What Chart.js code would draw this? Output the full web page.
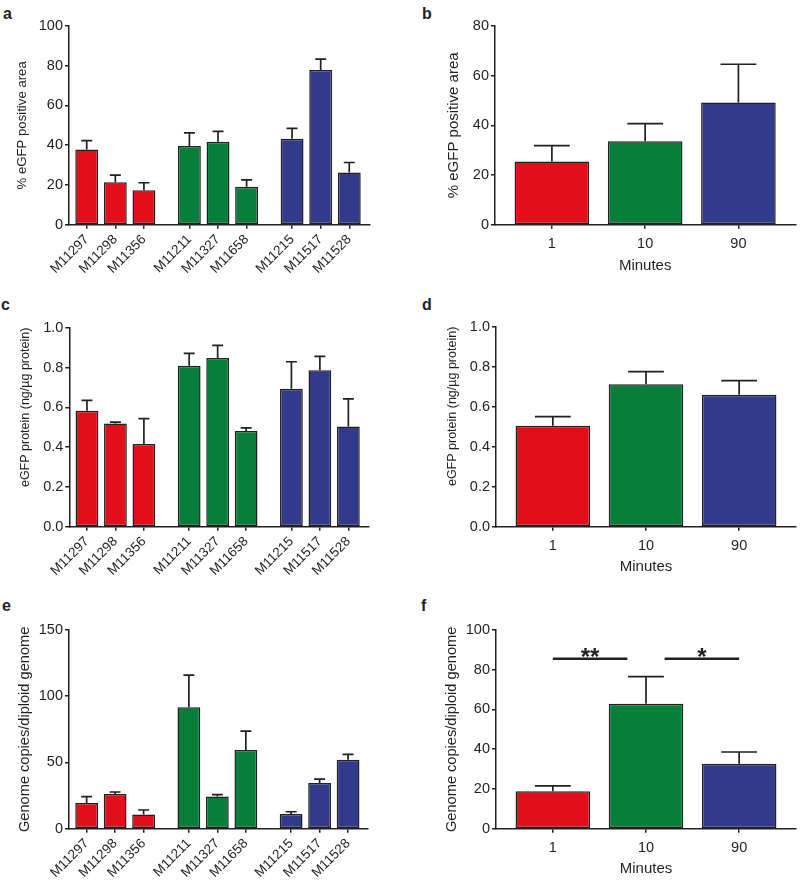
<!DOCTYPE html>
<html>
<head>
<meta charset="utf-8">
<script src="https://cdn.jsdelivr.net/npm/chart.js@4.4.1/dist/chart.umd.min.js"></script>
<style>
  body { margin: 0; background: #fff; }
  #fig { position: relative; width: 800px; height: 887px; font-family: 'Liberation Sans', Arial, sans-serif; color: #231f20; }
  .panel { position: absolute; }
  .letter { position: absolute; font-weight: bold; font-size: 16px; line-height: 16px; }
</style>
</head>
<body>
<div id="fig">
  <div class="letter" style="left:3px;top:6px">a</div>
  <div class="letter" style="left:422px;top:6px">b</div>
  <div class="letter" style="left:1px;top:297px">c</div>
  <div class="letter" style="left:422px;top:297px">d</div>
  <div class="letter" style="left:2px;top:598px">e</div>
  <div class="letter" style="left:421px;top:598px">f</div>
</div>
<script>
// ---- data ----
const strains = ['M11297', 'M11298', 'M11356', 'M11211', 'M11327', 'M11658', 'M11215', 'M11517', 'M11528'];
const strainGroup = [0, 0, 0, 1, 1, 1, 2, 2, 2];
const minutes = ['1', '10', '90'];

// a: % eGFP positive area per strain
const areaByStrain = [37.8, 21.4, 17.4, 39.6, 41.8, 19.1, 43.3, 77.9, 26.3];
const areaByStrainSem = [4.5, 3.5, 3.7, 6.6, 5.2, 3.5, 5.2, 5.4, 5.0];
// b: % eGFP positive area per time
const areaByTime = [25.4, 33.6, 49.2];
const areaByTimeSem = [6.4, 7.1, 15.4];
// c: eGFP protein per strain
const proteinByStrain = [0.583, 0.519, 0.415, 0.809, 0.848, 0.481, 0.693, 0.786, 0.504];
const proteinByStrainSem = [0.052, 0.007, 0.128, 0.062, 0.063, 0.016, 0.136, 0.070, 0.138];
// d: eGFP protein per time
const proteinByTime = [0.505, 0.712, 0.660];
const proteinByTimeSem = [0.045, 0.063, 0.070];
// e: genome copies per strain
const genomeByStrain = [19.4, 26.2, 10.8, 91.6, 24.4, 59.4, 11.1, 34.5, 52.1];
const genomeByStrainSem = [4.8, 1.5, 3.3, 24.4, 1.3, 14.3, 1.7, 3.0, 4.0];
// f: genome copies per time
const genomeByTime = [18.8, 62.9, 32.7];
const genomeByTimeSem = [2.8, 13.6, 5.9];

// y tick labels
const yTicksAreaStrain = [0, 20, 40, 60, 80, 100];
const yTicksAreaTime = [0, 20, 40, 60, 80];
const yTicksProtein = [0, 0.2, 0.4, 0.6, 0.8, 1.0];
const yTicksGenomeStrain = [0, 50, 100, 150];
const yTicksGenomeTime = [0, 20, 40, 60, 80, 100];

// significance brackets in f
const sigPairs = [
  { from: 0, to: 1, label: '**' },
  { from: 1, to: 2, label: '*' },
];
const sigLevel = 85.5;

// ---- styles ----
const FONT = "'Liberation Sans', Arial, Helvetica, sans-serif";
const INK = '#231f20';
const RED = '#e30e1b';
const GREEN = '#077f3a';
const BLUE = '#323a8c';
const groupColors = [RED, GREEN, BLUE];
const GROUP_STRIDE = 3.59;  // bar slots between the first bars of two strain groups

Chart.defaults.font.family = FONT;
Chart.defaults.color = INK;

const strainPos = strains.map((s, i) => strainGroup[i] * GROUP_STRIDE + (i - strainGroup[i] * 3));
const strainColors = strainGroup.map(g => groupColors[g]);
const timePos = minutes.map((m, i) => i);

// error bars: vertical line from the bar top up to mean + SEM, with a cap
const errorBars = {
  id: 'errorBars',
  afterDatasetsDraw(chart) {
    const ds = chart.data.datasets[0];
    const meta = chart.getDatasetMeta(0);
    const yScale = chart.scales.y;
    const ctx = chart.ctx;
    ctx.save();
    ctx.strokeStyle = INK;
    ctx.lineWidth = 1.7;
    meta.data.forEach((bar, i) => {
      const top = yScale.getPixelForValue(ds.data[i].y + ds.sem[i]);
      const half = bar.width * 0.24;
      ctx.beginPath();
      ctx.moveTo(bar.x, bar.y);
      ctx.lineTo(bar.x, top);
      ctx.moveTo(bar.x - half, top);
      ctx.lineTo(bar.x + half, top);
      ctx.stroke();
    });
    ctx.restore();
  }
};

// significance lines with stars (panel f)
const sigLines = {
  id: 'sigLines',
  afterDatasetsDraw(chart) {
    const x = chart.scales.x;
    const y = chart.scales.y;
    const ctx = chart.ctx;
    const shared = v => sigPairs.filter(p => p.from === v || p.to === v).length > 1;
    const yy = y.getPixelForValue(sigLevel);
    ctx.save();
    ctx.strokeStyle = INK;
    ctx.fillStyle = INK;
    ctx.lineWidth = 2.5;
    sigPairs.forEach(p => {
      const a = x.getPixelForValue(p.from + (shared(p.from) ? 0.2 : 0));
      const b = x.getPixelForValue(p.to - (shared(p.to) ? 0.2 : 0));
      ctx.beginPath();
      ctx.moveTo(a, yy);
      ctx.lineTo(b, yy);
      ctx.stroke();
      ctx.font = 'bold 24px ' + FONT;
      ctx.textAlign = 'center';
      ctx.textBaseline = 'alphabetic';
      ctx.fillText(p.label, (a + b) / 2, yy + 6.5);
    });
    ctx.restore();
  }
};

function makePanel(cfg) {
  const box = cfg.box;
  const plot = cfg.plot;
  const div = document.createElement('div');
  div.className = 'panel';
  div.style.left = box.left + 'px';
  div.style.top = box.top + 'px';
  div.style.width = box.w + 'px';
  div.style.height = box.h + 'px';
  const canvas = document.createElement('canvas');
  canvas.width = box.w;
  canvas.height = box.h;
  div.appendChild(canvas);
  document.getElementById('fig').appendChild(div);

  const yLh = cfg.yTitleSize * 1.2;
  const xTitleSize = 15;
  const lastY = cfg.yTicks[cfg.yTicks.length - 1];

  return new Chart(canvas, {
    type: 'bar',
    data: {
      datasets: [{
        data: cfg.positions.map((x, i) => ({ x: x, y: cfg.values[i] })),
        sem: cfg.sem,
        backgroundColor: cfg.colors,
        borderColor: INK,
        borderWidth: 1.5,
        borderSkipped: false,
        categoryPercentage: 1,
        barPercentage: 0.8,
      }],
    },
    options: {
      responsive: false,
      animation: false,
      events: [],
      layout: {
        padding: { top: plot.t - box.top, right: box.left + box.w - plot.r, left: 0, bottom: 0 },
      },
      plugins: {
        legend: { display: false },
        tooltip: { enabled: false },
      },
      scales: {
        x: {
          type: 'linear',
          min: cfg.xMin,
          max: cfg.xMax,
          offset: false,
          grid: { offset: false, drawOnChartArea: false, drawTicks: true, tickLength: 4, color: INK, lineWidth: 1.5 },
          border: { color: INK, width: 1.5 },
          afterBuildTicks: s => { s.ticks = cfg.positions.map(v => ({ value: v })); },
          afterFit: s => { s.height = box.top + box.h - plot.b; },
          ticks: {
            autoSkip: false,
            maxRotation: cfg.rotate,
            minRotation: cfg.rotate,
            padding: cfg.rotate ? 3 : 7,
            color: INK,
            font: { size: cfg.rotate ? 13.5 : 14.5 },
            callback: (v, i) => cfg.labels[i],
          },
          title: cfg.xTitle ? {
            display: true,
            text: cfg.xTitle,
            color: INK,
            font: { size: xTitleSize },
            padding: { top: 0, bottom: box.h - xTitleSize * 0.6 - (cfg.xTitleY - box.top) },
          } : { display: false },
        },
        y: {
          min: 0,
          max: lastY,
          grid: { drawOnChartArea: false, drawTicks: true, tickLength: 4, color: INK, lineWidth: 1.5 },
          border: { color: INK, width: 1.5 },
          afterBuildTicks: s => { s.ticks = cfg.yTicks.map(v => ({ value: v })); },
          afterFit: s => { s.width = plot.l - box.left; },
          ticks: {
            padding: 2,
            color: INK,
            font: { size: 14.5 },
            callback: v => cfg.yFmt(v),
          },
          title: {
            display: true,
            text: cfg.yTitle,
            color: INK,
            align: cfg.yTitleAlign || 'center',
            font: { size: cfg.yTitleSize },
            padding: { top: cfg.yTitleX - box.left - yLh / 2, bottom: 0 },
          },
        },
      },
    },
    plugins: [errorBars].concat(cfg.extra || []),
  });
}

const intFmt = v => String(Math.round(v));
const decFmt = v => v.toFixed(1);

// a
makePanel({
  box: { left: 0, top: 0, w: 400, h: 290 },
  plot: { l: 69, r: 369.3, t: 26, b: 224.7 },
  labels: strains, positions: strainPos, values: areaByStrain, sem: areaByStrainSem, colors: strainColors,
  xMin: -0.62, xMax: 9.88, rotate: 45,
  yTicks: yTicksAreaStrain, yFmt: intFmt,
  yTitle: '% eGFP positive area', yTitleSize: 13.2, yTitleX: 22,
});
// b
makePanel({
  box: { left: 400, top: 0, w: 400, h: 290 },
  plot: { l: 495, r: 795.3, t: 26, b: 224.7 },
  labels: minutes, positions: timePos, values: areaByTime, sem: areaByTimeSem, colors: groupColors,
  xMin: -0.61, xMax: 2.61, rotate: 0,
  xTitle: 'Minutes', xTitleY: 266,
  yTicks: yTicksAreaTime, yFmt: intFmt,
  yTitle: '% eGFP positive area', yTitleSize: 15, yTitleX: 453.5,
});
// c
makePanel({
  box: { left: 0, top: 290, w: 400, h: 290 },
  plot: { l: 69.3, r: 368.3, t: 327.7, b: 526.7 },
  labels: strains, positions: strainPos, values: proteinByStrain, sem: proteinByStrainSem, colors: strainColors,
  xMin: -0.62, xMax: 9.88, rotate: 45,
  yTicks: yTicksProtein, yFmt: decFmt,
  yTitle: 'eGFP protein (ng/µg protein)', yTitleSize: 12.5, yTitleX: 25.5, yTitleAlign: 'end',
});
// d
makePanel({
  box: { left: 400, top: 290, w: 400, h: 290 },
  plot: { l: 496, r: 796, t: 326.7, b: 526.7 },
  labels: minutes, positions: timePos, values: proteinByTime, sem: proteinByTimeSem, colors: groupColors,
  xMin: -0.61, xMax: 2.61, rotate: 0,
  xTitle: 'Minutes', xTitleY: 566.5,
  yTicks: yTicksProtein, yFmt: decFmt,
  yTitle: 'eGFP protein (ng/µg protein)', yTitleSize: 12.5, yTitleX: 453, yTitleAlign: 'end',
});
// e
makePanel({
  box: { left: 0, top: 580, w: 400, h: 307 },
  plot: { l: 69, r: 368, t: 630, b: 828.7 },
  labels: strains, positions: strainPos, values: genomeByStrain, sem: genomeByStrainSem, colors: strainColors,
  xMin: -0.62, xMax: 9.88, rotate: 45,
  yTicks: yTicksGenomeStrain, yFmt: intFmt,
  yTitle: 'Genome copies/diploid genome', yTitleSize: 14.6, yTitleX: 24.5,
});
// f
makePanel({
  box: { left: 400, top: 580, w: 400, h: 307 },
  plot: { l: 496, r: 796, t: 630, b: 828.7 },
  labels: minutes, positions: timePos, values: genomeByTime, sem: genomeByTimeSem, colors: groupColors,
  xMin: -0.61, xMax: 2.61, rotate: 0,
  xTitle: 'Minutes', xTitleY: 869,
  yTicks: yTicksGenomeTime, yFmt: intFmt,
  yTitle: 'Genome copies/diploid genome', yTitleSize: 14.6, yTitleX: 451.5,
  extra: [sigLines],
});
</script>
</body>
</html>
